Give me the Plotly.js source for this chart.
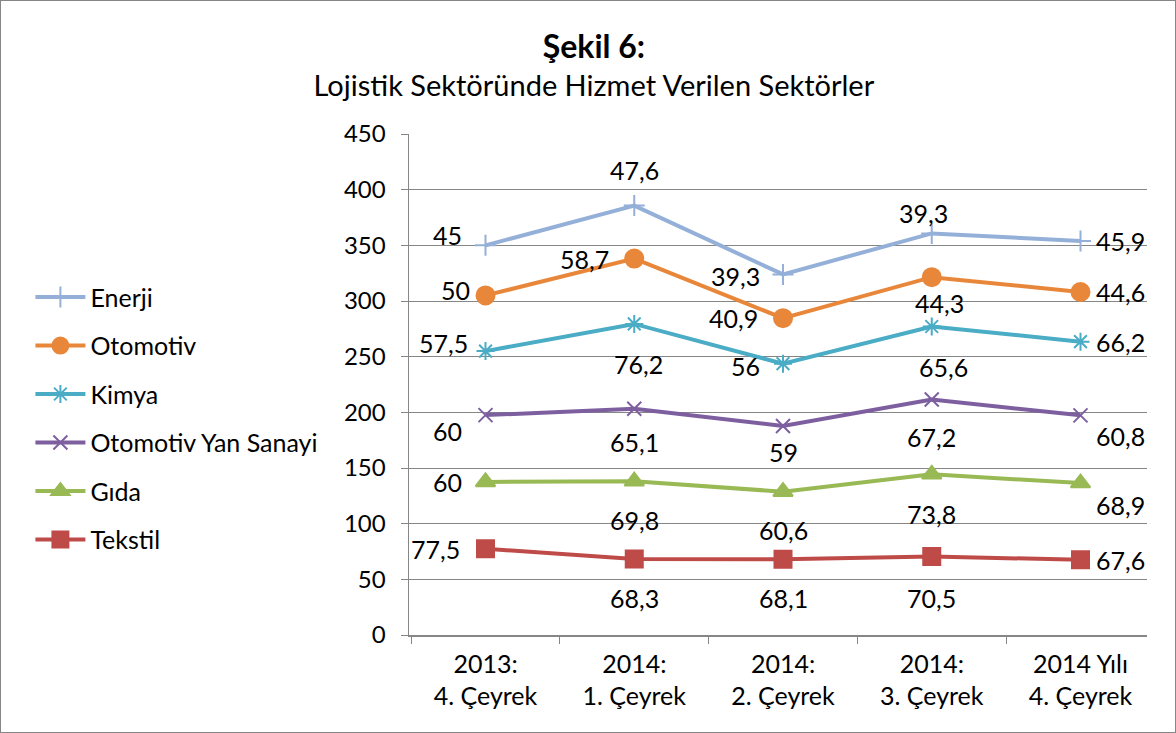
<!DOCTYPE html>
<html><head><meta charset="utf-8">
<script src="https://cdn.plot.ly/plotly-3.0.1.min.js"></script>
<style>
html,body{margin:0;padding:0;background:#fff;}
#wrap{position:relative;width:1176px;height:733px;}
#chart{width:1176px;height:733px;}
#frame{position:absolute;left:0;top:0;width:1174px;height:731px;border:1px solid #868686;pointer-events:none;}
</style></head>
<body><div id="wrap"><div id="chart"></div><div id="frame"></div></div>
<script>
const categories = ["2013:<br>4. Çeyrek","2014:<br>1. Çeyrek","2014:<br>2. Çeyrek","2014:<br>3. Çeyrek","2014 Yılı<br>4. Çeyrek"];
const tekstil = [77.5, 68.3, 68.1, 70.5, 67.6];
const gida = [60, 69.8, 60.6, 73.8, 68.9];
const otomotivYan = [60, 65.1, 59, 67.2, 60.8];
const kimya = [57.5, 76.2, 56, 65.6, 66.2];
const otomotiv = [50, 58.7, 40.9, 44.3, 44.6];
const enerji = [45, 47.6, 39.3, 39.3, 45.9];

const FONT = "Lato, 'Open Sans', sans-serif";
const series = [
  {name:"Tekstil", y:tekstil, color:"#BE4B48", symbol:"square", size:17, lw:4},
  {name:"Gıda", y:gida, color:"#98B954", symbol:"triangle-up", size:17, lw:4},
  {name:"Otomotiv Yan Sanayi", y:otomotivYan, color:"#7D5FA0", symbol:"x-thin-open", size:14, lw:4},
  {name:"Kimya", y:kimya, color:"#4AACC5", symbol:"asterisk-open", size:15, lw:4},
  {name:"Otomotiv", y:otomotiv, color:"#E8873A", symbol:"circle", size:18, lw:4},
  {name:"Enerji", y:enerji, color:"#94B0D8", symbol:"cross-thin-open", size:15, lw:4}
];
// label offsets in px [dx, dy] (dy positive = down) per series, per point
const offsets = {
  "Enerji": [[-38,-10],[0,-36],[-48,2],[-8,-20],[40,0]],
  "Otomotiv": [[-30,-5],[-50,0],[-50,0],[8,26],[40,0]],
  "Kimya": [[-42,-8],[4,40],[-38,2],[12,40],[40,0]],
  "Otomotiv Yan Sanayi": [[-38,16],[0,33],[0,26],[0,37],[40,21]],
  "Gıda": [[-38,0],[0,39],[0,38],[0,40],[40,22]],
  "Tekstil": [[-50,0],[0,39],[0,39],[0,41],[40,0]]
};

const traces = series.map((s,i)=>({
  type:"scatter", mode:"lines+markers", name:s.name,
  x:categories, y:s.y, stackgroup:"one", fill:"none",
  legendgroup:"g"+i, legendrank: 100-i,
  line:{color:s.color, width:s.lw},
  marker:{color:s.color, symbol:s.symbol, size:s.size, line:{color:s.color, width:2}},
  hoverinfo:"skip"
}));

const annotations = [];
const cum = categories.map(()=>0);
series.forEach(s=>{
  s.y.forEach((v,j)=>{
    cum[j] += v;
    const o = offsets[s.name][j];
    annotations.push({x:categories[j], y:cum[j], xref:"x", yref:"y",
      text:String(v).replace(".",","), showarrow:false,
      xshift:o[0], yshift:-o[1], font:{family:FONT, size:25, color:"#000"}});
  });
});

const layout = {
  width:1176, height:733,
  margin:{l:409, r:29, t:134, b:98},
  paper_bgcolor:"#fff", plot_bgcolor:"#fff",
  font:{family:FONT, color:"#000"},
  title:{text:"<b><span style='font-size:32px'>Şekil 6:</span></b><br>Lojistik Sektöründe Hizmet Verilen Sektörler",
    x:0.505, xanchor:"center", y:0.921, yanchor:"middle", yref:"container",
    font:{family:FONT, size:29, color:"#000"}},
  xaxis:{type:"category", tickson:"boundaries", ticks:"outside", ticklen:7, tickcolor:"#868686",
    showline:true, linecolor:"#868686", linewidth:1.5, showgrid:false, ticklabelstandoff:6,
    tickfont:{family:FONT, size:25, color:"#000"}, fixedrange:true},
  yaxis:{range:[0,450], dtick:50, ticks:"outside", ticklen:7, tickcolor:"#868686",
    showline:true, linecolor:"#868686", linewidth:1.5, gridcolor:"#868686", gridwidth:1,
    zeroline:false, ticklabelstandoff:10,
    tickfont:{family:FONT, size:24, color:"#000"}, fixedrange:true},
  legend:{x:-0.513, xanchor:"left", y:0.72, yanchor:"top", traceorder:"grouped",
    tracegroupgap:13, font:{family:FONT, size:25, color:"#000"}, itemwidth:50, bgcolor:"rgba(0,0,0,0)"},
  annotations:annotations,
  showlegend:true
};
Plotly.newPlot("chart", traces, layout, {displayModeBar:false, staticPlot:true});
</script></body></html>
